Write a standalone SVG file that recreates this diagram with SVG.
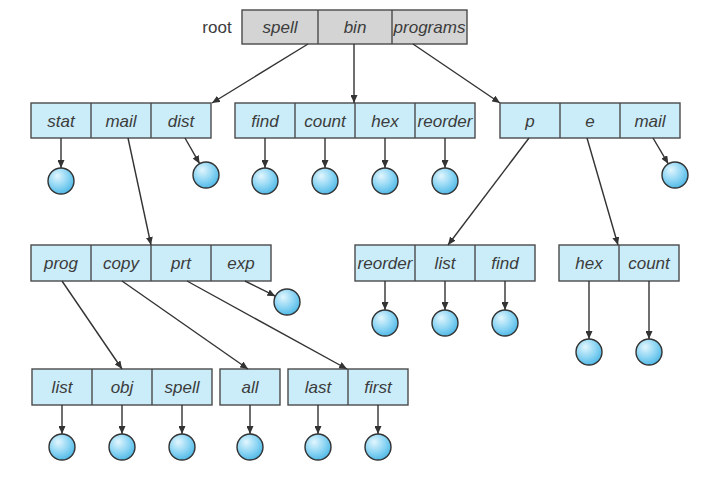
<svg xmlns="http://www.w3.org/2000/svg" width="710" height="478" viewBox="0 0 710 478">
<style>
.b{fill:#cbedfa;stroke:#4a4a4a;stroke-width:1.4}
.r{fill:#d4d4d4;stroke:#4a4a4a;stroke-width:1.4}
.d{stroke:#4a4a4a;stroke-width:1.4}
.t{font-family:"Liberation Sans",Arial,sans-serif;font-style:italic;font-size:17px;fill:#3c3c3c;text-anchor:middle}
.c{fill:url(#g);stroke:#333;stroke-width:1.4}
.e{stroke:#333;stroke-width:1.4;fill:none;marker-end:url(#a)}
</style>
<defs>
<radialGradient id="g" cx="0.4" cy="0.35" r="0.7" fx="0.35" fy="0.3">
<stop offset="0" stop-color="#e2f6fd"/>
<stop offset="0.55" stop-color="#8fd6f4"/>
<stop offset="1" stop-color="#4ab6e5"/>
</radialGradient>
<marker id="a" markerWidth="8" markerHeight="7" refX="8" refY="3.5" orient="auto" markerUnits="userSpaceOnUse">
<path d="M0,0 L8,3.5 L0,7 z" fill="#333"/>
</marker>
</defs>

<g id="root">
<text x="217" y="33" style="font-family:'Liberation Sans',Arial,sans-serif;font-size:17px;fill:#3c3c3c;text-anchor:middle">root</text>
<rect class="r" x="242" y="10" width="225" height="34"/>
<line class="d" x1="318" y1="10" x2="318" y2="44"/>
<line class="d" x1="392" y1="10" x2="392" y2="44"/>
<text class="t" x="280" y="33">spell</text>
<text class="t" x="355" y="33">bin</text>
<text class="t" x="429.5" y="33">programs</text>
</g>

<g id="spell-dir">
<rect class="b" x="31" y="103" width="180" height="35"/>
<line class="d" x1="91" y1="103" x2="91" y2="138"/>
<line class="d" x1="151" y1="103" x2="151" y2="138"/>
<text class="t" x="61" y="127">stat</text>
<text class="t" x="121" y="127">mail</text>
<text class="t" x="181" y="127">dist</text>
</g>

<g id="bin-dir">
<rect class="b" x="235" y="103" width="240" height="35"/>
<line class="d" x1="295" y1="103" x2="295" y2="138"/>
<line class="d" x1="355" y1="103" x2="355" y2="138"/>
<line class="d" x1="415" y1="103" x2="415" y2="138"/>
<text class="t" x="265" y="127">find</text>
<text class="t" x="325" y="127">count</text>
<text class="t" x="385" y="127">hex</text>
<text class="t" x="445" y="127">reorder</text>
</g>

<g id="programs-dir">
<rect class="b" x="500" y="103" width="180" height="35"/>
<line class="d" x1="560" y1="103" x2="560" y2="138"/>
<line class="d" x1="620" y1="103" x2="620" y2="138"/>
<text class="t" x="530" y="127">p</text>
<text class="t" x="590" y="127">e</text>
<text class="t" x="650" y="127">mail</text>
</g>

<g id="mail-dir">
<rect class="b" x="31" y="245" width="240" height="36"/>
<line class="d" x1="91" y1="245" x2="91" y2="281"/>
<line class="d" x1="151" y1="245" x2="151" y2="281"/>
<line class="d" x1="211" y1="245" x2="211" y2="281"/>
<text class="t" x="61" y="269">prog</text>
<text class="t" x="121" y="269">copy</text>
<text class="t" x="181" y="269">prt</text>
<text class="t" x="241" y="269">exp</text>
</g>

<g id="p-dir">
<rect class="b" x="355" y="245" width="180" height="36"/>
<line class="d" x1="415" y1="245" x2="415" y2="281"/>
<line class="d" x1="475" y1="245" x2="475" y2="281"/>
<text class="t" x="385" y="269">reorder</text>
<text class="t" x="445" y="269">list</text>
<text class="t" x="505" y="269">find</text>
</g>

<g id="e-dir">
<rect class="b" x="559" y="245" width="120" height="36"/>
<line class="d" x1="619" y1="245" x2="619" y2="281"/>
<text class="t" x="589" y="269">hex</text>
<text class="t" x="649" y="269">count</text>
</g>

<g id="prog-dir">
<rect class="b" x="32" y="369" width="180" height="36"/>
<line class="d" x1="92" y1="369" x2="92" y2="405"/>
<line class="d" x1="152" y1="369" x2="152" y2="405"/>
<text class="t" x="62" y="393">list</text>
<text class="t" x="122" y="393">obj</text>
<text class="t" x="182" y="393">spell</text>
</g>

<g id="copy-dir">
<rect class="b" x="220" y="369" width="60" height="36"/>
<text class="t" x="250" y="393">all</text>
</g>

<g id="prt-dir">
<rect class="b" x="288" y="369" width="120" height="36"/>
<line class="d" x1="348" y1="369" x2="348" y2="405"/>
<text class="t" x="318" y="393">last</text>
<text class="t" x="378" y="393">first</text>
</g>

<g id="files">
<circle class="c" cx="61" cy="181" r="13"/>
<circle class="c" cx="206" cy="175" r="13"/>
<circle class="c" cx="265" cy="181" r="13"/>
<circle class="c" cx="325" cy="181" r="13"/>
<circle class="c" cx="385" cy="181" r="13"/>
<circle class="c" cx="445" cy="181" r="13"/>
<circle class="c" cx="675" cy="175" r="13"/>
<circle class="c" cx="287" cy="302" r="13"/>
<circle class="c" cx="385" cy="323" r="13"/>
<circle class="c" cx="445" cy="323" r="13"/>
<circle class="c" cx="505" cy="323" r="13"/>
<circle class="c" cx="589" cy="352" r="13"/>
<circle class="c" cx="649" cy="352" r="13"/>
<circle class="c" cx="62" cy="447" r="13"/>
<circle class="c" cx="122" cy="447" r="13"/>
<circle class="c" cx="182" cy="447" r="13"/>
<circle class="c" cx="250" cy="447" r="13"/>
<circle class="c" cx="318" cy="447" r="13"/>
<circle class="c" cx="378" cy="447" r="13"/>
</g>

<g id="connectors">
<line class="e" x1="308" y1="44" x2="212" y2="103"/>
<line class="e" x1="354" y1="44" x2="354" y2="103"/>
<line class="e" x1="413" y1="44" x2="500" y2="103"/>
<line class="e" x1="128" y1="138" x2="151" y2="245"/>
<line class="e" x1="529" y1="138" x2="448" y2="245"/>
<line class="e" x1="587" y1="138" x2="618" y2="245"/>
<line class="e" x1="62" y1="281" x2="122" y2="369"/>
<line class="e" x1="122" y1="281" x2="248" y2="369"/>
<line class="e" x1="187" y1="281" x2="347" y2="369"/>
<line class="e" x1="61" y1="138" x2="61" y2="168"/>
<line class="e" x1="185" y1="138" x2="199.6" y2="163.7"/>
<line class="e" x1="265" y1="138" x2="265" y2="168"/>
<line class="e" x1="325" y1="138" x2="325" y2="168"/>
<line class="e" x1="385" y1="138" x2="385" y2="168"/>
<line class="e" x1="445" y1="138" x2="445" y2="168"/>
<line class="e" x1="653" y1="138" x2="668.3" y2="163.8"/>
<line class="e" x1="245" y1="281" x2="275.4" y2="296.2"/>
<line class="e" x1="385" y1="281" x2="385" y2="310"/>
<line class="e" x1="445" y1="281" x2="445" y2="310"/>
<line class="e" x1="505" y1="281" x2="505" y2="310"/>
<line class="e" x1="589" y1="281" x2="589" y2="339"/>
<line class="e" x1="649" y1="281" x2="649" y2="339"/>
<line class="e" x1="62" y1="405" x2="62" y2="434"/>
<line class="e" x1="122" y1="405" x2="122" y2="434"/>
<line class="e" x1="182" y1="405" x2="182" y2="434"/>
<line class="e" x1="250" y1="405" x2="250" y2="434"/>
<line class="e" x1="318" y1="405" x2="318" y2="434"/>
<line class="e" x1="378" y1="405" x2="378" y2="434"/>
</g>
</svg>
